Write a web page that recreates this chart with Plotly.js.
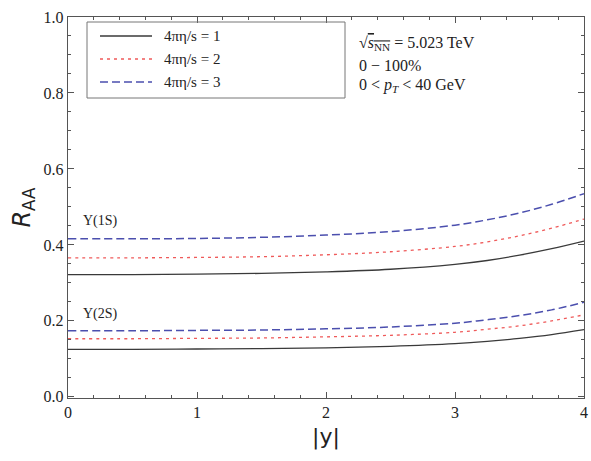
<!DOCTYPE html>
<html>
<head>
<meta charset="utf-8">
<script src="https://cdn.plot.ly/plotly-3.0.1.min.js"></script>
<style>html,body{margin:0;padding:0;background:#fff}</style>
</head>
<body>
<div id="chart" style="width:591px;height:461px"></div>
<script>
// |y| sample points
const rapidity = [0, 0.5, 1, 1.5, 2, 2.5, 3, 3.25, 3.5, 3.75, 4];

// Upsilon(1S) R_AA
const ups1S_eta1 = [0.322, 0.322, 0.323, 0.325, 0.329, 0.336, 0.349, 0.359, 0.373, 0.390, 0.410];
const ups1S_eta2 = [0.366, 0.366, 0.367, 0.369, 0.374, 0.382, 0.396, 0.408, 0.424, 0.444, 0.468];
const ups1S_eta3 = [0.416, 0.416, 0.417, 0.420, 0.426, 0.435, 0.452, 0.466, 0.484, 0.507, 0.535];

// Upsilon(2S) R_AA
const ups2S_eta1 = [0.125, 0.125, 0.126, 0.127, 0.129, 0.133, 0.140, 0.146, 0.154, 0.164, 0.177];
const ups2S_eta2 = [0.153, 0.153, 0.154, 0.155, 0.158, 0.162, 0.170, 0.178, 0.187, 0.200, 0.216];
const ups2S_eta3 = [0.174, 0.174, 0.175, 0.176, 0.179, 0.184, 0.194, 0.203, 0.214, 0.229, 0.249];

const legendLabels = ["4πη/s = 1", "4πη/s = 2", "4πη/s = 3"];
const xTickVals = [0, 1, 2, 3, 4];
const yTickVals = [0.0, 0.2, 0.4, 0.6, 0.8, 1.0];
const yTickText = ["0.0", "0.2", "0.4", "0.6", "0.8", "1.0"];

const styles = [
  {color: "#3a3a3a", width: 1.3, dash: "solid"},
  {color: "#ef5a5a", width: 1.3, dash: "3px,4px"},
  {color: "#4b4fae", width: 1.5, dash: "8px,4px"}
];

const series1S = [ups1S_eta1, ups1S_eta2, ups1S_eta3];
const series2S = [ups2S_eta1, ups2S_eta2, ups2S_eta3];

const traces = [];
[series1S, series2S].forEach(group => {
  group.forEach((vals, i) => {
    traces.push({
      x: rapidity, y: vals, type: "scatter", mode: "lines",
      line: {color: styles[i].color, width: styles[i].width, dash: styles[i].dash, shape: "spline", smoothing: 1},
      showlegend: false, hoverinfo: "skip"
    });
  });
});

const serif = "Liberation Serif, Times New Roman, serif";
const frameColor = "#555";

const ML = 68, MR = 7, MT = 17, MB = 63;
const shapes = [];
const annotations = [];
const W = 591 - ML - MR, H = 461 - MT - MB;
function px(xpix){ return (xpix - ML) / W; }
function py(ypix){ return 1 - (ypix - MT) / H; }
shapes.push({type: "rect", xref: "paper", yref: "paper", x0: px(87), x1: px(345), y0: py(98), y1: py(22),
  line: {color: "#777", width: 1}, fillcolor: "rgba(0,0,0,0)"});
const rowY = [36, 59, 82];
legendLabels.forEach((lab, i) => {
  shapes.push({type: "line", xref: "paper", yref: "paper", x0: px(100), x1: px(152), y0: py(rowY[i]), y1: py(rowY[i]),
    line: {color: styles[i].color, width: styles[i].width, dash: styles[i].dash}});
  annotations.push({xref: "paper", yref: "paper", x: px(162), y: py(rowY[i]), xanchor: "left", yanchor: "middle",
    text: lab, showarrow: false, font: {family: serif, size: 15, color: "#222"}});
});

annotations.push({xref: "paper", yref: "paper", x: px(357), y: py(44), xanchor: "left", yanchor: "middle",
  text: "√<span style='text-decoration:overline'><i>s</i><sub>NN</sub></span> = 5.023 TeV", showarrow: false,
  font: {family: serif, size: 16, color: "#222"}});
annotations.push({xref: "paper", yref: "paper", x: px(357), y: py(65), xanchor: "left", yanchor: "middle",
  text: "0 − 100%", showarrow: false, font: {family: serif, size: 16, color: "#222"}});
annotations.push({xref: "paper", yref: "paper", x: px(357), y: py(85), xanchor: "left", yanchor: "middle",
  text: "0 < <i>p</i><sub><i>T</i></sub> < 40 GeV", showarrow: false, font: {family: serif, size: 16, color: "#222"}});

annotations.push({xref: "x", yref: "y", x: 0.1, y: 0.462, xanchor: "left", yanchor: "middle",
  text: "Υ(1S)", showarrow: false, font: {family: serif, size: 14, color: "#222"}});
annotations.push({xref: "x", yref: "y", x: 0.1, y: 0.217, xanchor: "left", yanchor: "middle",
  text: "Υ(2S)", showarrow: false, font: {family: serif, size: 14, color: "#222"}});

const layout = {
  width: 591, height: 461,
  margin: {l: ML, r: MR, t: MT, b: MB},
  paper_bgcolor: "#fff", plot_bgcolor: "#fff",
  showlegend: false,
  xaxis: {
    range: [0, 4], tickvals: xTickVals, ticktext: xTickVals.map(String),
    ticks: "inside", ticklen: 6, tickcolor: frameColor, tickwidth: 1,
    showline: true, linecolor: frameColor, linewidth: 1.2, mirror: "ticks",
    showgrid: false, zeroline: false,
    minor: {dtick: 0.2, ticks: "inside", ticklen: 3, tickcolor: frameColor, showgrid: false},
    tickfont: {family: serif, size: 16, color: "#222"},
    title: {text: "|y|", font: {family: "DejaVu Sans, sans-serif", size: 22, color: "#222"}, standoff: 8}
  },
  yaxis: {
    range: [-0.003, 1.0], tickvals: yTickVals, ticktext: yTickText,
    ticks: "inside", ticklen: 6, tickcolor: frameColor, tickwidth: 1,
    showline: true, linecolor: frameColor, linewidth: 1.2, mirror: "ticks",
    showgrid: false, zeroline: false,
    minor: {dtick: 0.05, ticks: "inside", ticklen: 3, tickcolor: frameColor, showgrid: false},
    tickfont: {family: serif, size: 16, color: "#222"},
    title: {text: "<i>R</i><sub>AA</sub>", font: {family: "DejaVu Sans, sans-serif", size: 24, color: "#222"}, standoff: 6}
  },
  shapes: shapes,
  annotations: annotations
};

Plotly.newPlot("chart", traces, layout, {displayModeBar: false, staticPlot: true});
</script>
</body>
</html>
